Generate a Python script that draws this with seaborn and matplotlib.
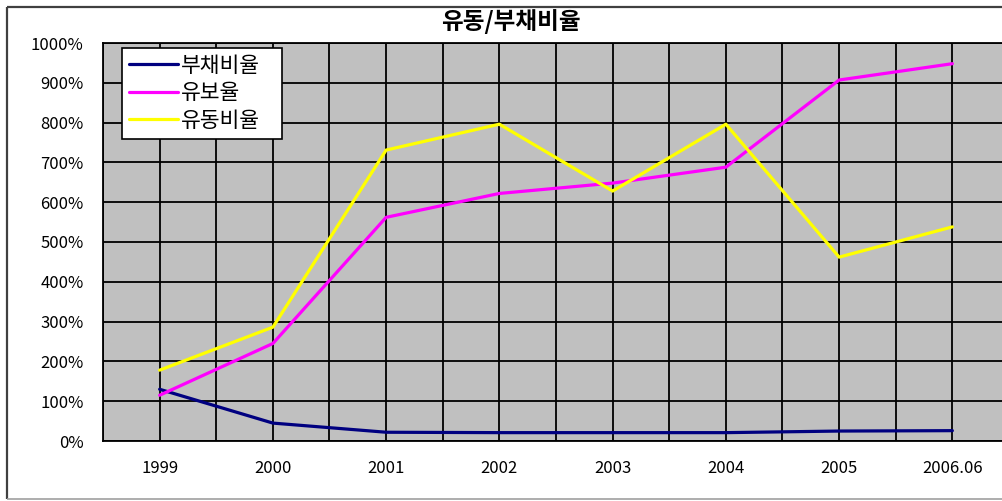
import matplotlib
matplotlib.use("Agg")
import matplotlib.pyplot as plt
from matplotlib.lines import Line2D
from matplotlib.ticker import FixedLocator, FuncFormatter
import seaborn as sns
import pandas as pd

# Financial ratios by year (percent)
years = ["1999", "2000", "2001", "2002", "2003", "2004", "2005", "2006.06"]
debt_ratio = [130, 45, 22, 21, 21, 21, 25, 26]          # 부채비율
reserve_ratio = [115, 245, 562, 622, 648, 688, 907, 948]  # 유보율
current_ratio = [178, 286, 731, 796, 628, 796, 462, 538]  # 유동비율

series_names = ["부채비율", "유보율", "유동비율"]
series_colors = ["#000080", "#FF00FF", "#FFFF00"]

rows = []
for name, vals in zip(series_names, [debt_ratio, reserve_ratio, current_ratio]):
    for i, (yr, v) in enumerate(zip(years, vals)):
        rows.append({"idx": i, "year": yr, "value": v, "series": name})
df = pd.DataFrame(rows)

sns.set_theme(style="white")
plt.rcParams["font.family"] = ["Noto Sans CJK KR", "DejaVu Sans"]
plt.rcParams["text.color"] = "black"

W, H = 1003, 501
fig = plt.figure(figsize=(W / 100, H / 100), dpi=100, frameon=True,
                 edgecolor="white", linewidth=0)
fig.patch.set_facecolor("white")

# outer chart border (left, top, bottom; right side runs off the canvas)
border_kw = dict(transform=fig.transFigure, color="#404040", linewidth=1.6,
                 solid_capstyle="butt")
fig.add_artist(Line2D([7 / W, 7 / W], [1 - 7 / H, 1 - 499 / H], **border_kw))
fig.add_artist(Line2D([7 / W, 0.999], [1 - 7 / H, 1 - 7 / H], **border_kw))
fig.add_artist(Line2D([7 / W, 0.999], [1 - 499 / H, 1 - 499 / H],
                      transform=fig.transFigure, color="#A0A0A0", linewidth=1.2,
                      solid_capstyle="butt"))

ax_left, ax_right, ax_top, ax_bottom = 103, 1009, 43, 441
ax = fig.add_axes([ax_left / W, 1 - ax_bottom / H,
                   (ax_right - ax_left) / W, (ax_bottom - ax_top) / H])
ax.set_facecolor("#C0C0C0")

sns.lineplot(data=df, x="idx", y="value", hue="series", hue_order=series_names,
             palette=series_colors, linewidth=2.3, ax=ax, legend=False,
             zorder=3)

ax.set_xlim(-0.5, len(years) - 0.5)
ax.set_ylim(0, 1000)

ax.xaxis.set_major_locator(FixedLocator(range(len(years))))
ax.xaxis.set_minor_locator(FixedLocator([i + 0.5 for i in range(-1, len(years) - 1)]))
ax.set_xticklabels(years)
ax.set_yticks(range(0, 1001, 100))
ax.yaxis.set_major_formatter(FuncFormatter(lambda v, p: f"{int(v)}%"))

ax.grid(True, which="both", color="black", linewidth=1.3, zorder=1)
ax.set_axisbelow(True)
ax.tick_params(axis="both", which="both", length=0, labelsize=12,
               colors="black")
ax.tick_params(axis="y", pad=14)
ax.tick_params(axis="x", pad=14)
ax.set_xlabel("")
ax.set_ylabel("")
for s in ax.spines.values():
    s.set_color("black")
    s.set_linewidth(1.3)
ax.spines["right"].set_visible(False)

handles = [Line2D([], [], color=c, linewidth=2.3) for c in series_colors]
leg = fig.legend(handles, series_names, loc="upper left",
                 bbox_to_anchor=(122 / W, 1 - 137 / H, 160 / W, 89 / H),
                 mode="expand", frameon=True,
                 fancybox=False, framealpha=1, edgecolor="black",
                 fontsize=15.5, handlelength=2.3, handletextpad=0.12,
                 labelspacing=0.25, borderpad=0.32, borderaxespad=0)
leg.get_frame().set_linewidth(1.2)

fig.text(511 / W, 1 - 22 / H, "유동/부채비율", ha="center", va="center",
         fontsize=17, fontweight="bold", color="black")

fig.savefig("out.png", dpi=100)
